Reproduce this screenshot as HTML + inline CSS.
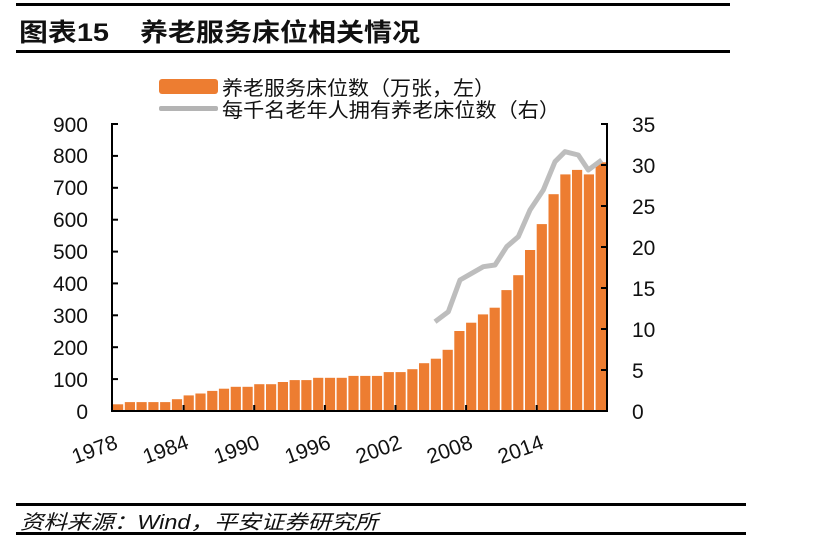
<!DOCTYPE html>
<html><head><meta charset="utf-8"><style>
body{margin:0;background:#fff;}
svg{display:block;font-family:"Liberation Sans","Noto Sans CJK SC",sans-serif;}
</style></head><body>
<svg width="815" height="537" viewBox="0 0 815 537">
<rect x="0" y="0" width="815" height="537" fill="#fff"/>
<rect x="16" y="3" width="714" height="3" fill="#000"/>
<rect x="16" y="50" width="714" height="3" fill="#000"/>
<text x="19" y="41" font-size="25" font-weight="bold" fill="#111" textLength="90" lengthAdjust="spacingAndGlyphs">图表15</text>
<text x="140" y="41" font-size="25" font-weight="bold" fill="#111" textLength="280" lengthAdjust="spacingAndGlyphs">养老服务床位相关情况</text>

<rect x="159" y="79" width="59" height="15" rx="3" fill="#ed7d31"/>
<text x="222" y="95" font-size="20" fill="#111" textLength="273" lengthAdjust="spacingAndGlyphs">养老服务床位数（万张，左）</text>
<rect x="159" y="106" width="59" height="5" rx="2" fill="#b4b4b4"/>
<text x="222" y="117" font-size="20" fill="#111" textLength="338" lengthAdjust="spacingAndGlyphs">每千名老年人拥有养老床位数（右）</text>

<g fill="#ed7d31">
<rect x="113.0" y="404.3" width="10.2" height="6.7"/>
<rect x="124.8" y="402.1" width="10.2" height="8.9"/>
<rect x="136.5" y="402.1" width="10.2" height="8.9"/>
<rect x="148.3" y="402.1" width="10.2" height="8.9"/>
<rect x="160.1" y="402.1" width="10.2" height="8.9"/>
<rect x="171.9" y="399.2" width="10.2" height="11.8"/>
<rect x="183.6" y="395.4" width="10.2" height="15.6"/>
<rect x="195.4" y="393.5" width="10.2" height="17.5"/>
<rect x="207.2" y="390.9" width="10.2" height="20.1"/>
<rect x="218.9" y="388.7" width="10.2" height="22.3"/>
<rect x="230.7" y="386.8" width="10.2" height="24.2"/>
<rect x="242.5" y="386.8" width="10.2" height="24.2"/>
<rect x="254.2" y="384.2" width="10.2" height="26.8"/>
<rect x="266.0" y="384.2" width="10.2" height="26.8"/>
<rect x="277.8" y="382.0" width="10.2" height="29.0"/>
<rect x="289.6" y="380.1" width="10.2" height="30.9"/>
<rect x="301.3" y="380.1" width="10.2" height="30.9"/>
<rect x="313.1" y="377.8" width="10.2" height="33.2"/>
<rect x="324.9" y="377.8" width="10.2" height="33.2"/>
<rect x="336.6" y="377.8" width="10.2" height="33.2"/>
<rect x="348.4" y="375.9" width="10.2" height="35.1"/>
<rect x="360.2" y="375.9" width="10.2" height="35.1"/>
<rect x="371.9" y="375.9" width="10.2" height="35.1"/>
<rect x="383.7" y="372.1" width="10.2" height="38.9"/>
<rect x="395.5" y="372.1" width="10.2" height="38.9"/>
<rect x="407.3" y="369.2" width="10.2" height="41.8"/>
<rect x="419.0" y="363.2" width="10.2" height="47.8"/>
<rect x="430.8" y="358.7" width="10.2" height="52.3"/>
<rect x="442.6" y="349.8" width="10.2" height="61.2"/>
<rect x="454.3" y="331.0" width="10.2" height="80.0"/>
<rect x="466.1" y="322.7" width="10.2" height="88.3"/>
<rect x="477.9" y="314.4" width="10.2" height="96.6"/>
<rect x="489.6" y="307.7" width="10.2" height="103.3"/>
<rect x="501.4" y="290.1" width="10.2" height="120.9"/>
<rect x="513.2" y="275.2" width="10.2" height="135.8"/>
<rect x="525.0" y="250.0" width="10.2" height="161.0"/>
<rect x="536.7" y="224.1" width="10.2" height="186.9"/>
<rect x="548.5" y="194.2" width="10.2" height="216.8"/>
<rect x="560.3" y="174.4" width="10.2" height="236.6"/>
<rect x="572.0" y="169.9" width="10.2" height="241.1"/>
<rect x="583.8" y="174.4" width="10.2" height="236.6"/>
<rect x="595.6" y="162.3" width="10.4" height="248.7"/>
</g>
<polyline fill="none" stroke="#bdbdbd" stroke-width="5" stroke-linejoin="round" points="435,321.7 448.3,311.7 460,280 471.7,273.3 483.3,266.7 495,265 506.7,246.7 518.3,236.7 530,210 543.3,190 555,161.7 565,151.7 578.3,155 588.3,170 601.7,160"/>

<g stroke="#000" stroke-width="2" fill="none">
<polyline points="118,124 112,124 112,411 607,411 607,124 601,124"/>
<line x1="112" y1="379.1" x2="118" y2="379.1"/>
<line x1="112" y1="347.2" x2="118" y2="347.2"/>
<line x1="112" y1="315.3" x2="118" y2="315.3"/>
<line x1="112" y1="283.4" x2="118" y2="283.4"/>
<line x1="112" y1="251.6" x2="118" y2="251.6"/>
<line x1="112" y1="219.7" x2="118" y2="219.7"/>
<line x1="112" y1="187.8" x2="118" y2="187.8"/>
<line x1="112" y1="155.9" x2="118" y2="155.9"/>
<line x1="601" y1="370" x2="607" y2="370"/>
<line x1="601" y1="329" x2="607" y2="329"/>
<line x1="601" y1="288" x2="607" y2="288"/>
<line x1="601" y1="247" x2="607" y2="247"/>
<line x1="601" y1="206" x2="607" y2="206"/>
<line x1="601" y1="165" x2="607" y2="165"/>
<line x1="183.6" y1="411" x2="183.6" y2="405"/>
<line x1="254.2" y1="411" x2="254.2" y2="405"/>
<line x1="324.9" y1="411" x2="324.9" y2="405"/>
<line x1="395.5" y1="411" x2="395.5" y2="405"/>
<line x1="466.1" y1="411" x2="466.1" y2="405"/>
<line x1="536.7" y1="411" x2="536.7" y2="405"/>
</g>
<g font-size="21" fill="#111" text-anchor="end">
<text x="88" y="419">0</text>
<text x="88" y="387">100</text>
<text x="88" y="355">200</text>
<text x="88" y="323">300</text>
<text x="88" y="291">400</text>
<text x="88" y="259">500</text>
<text x="88" y="227">600</text>
<text x="88" y="195">700</text>
<text x="88" y="163">800</text>
<text x="88" y="132">900</text>
</g>
<g font-size="21" fill="#111">
<text x="632" y="419">0</text>
<text x="632" y="378">5</text>
<text x="632" y="337">10</text>
<text x="632" y="296">15</text>
<text x="632" y="255">20</text>
<text x="632" y="214">25</text>
<text x="632" y="173">30</text>
<text x="632" y="132">35</text>
</g>
<g font-size="21" fill="#111" text-anchor="middle">
<text transform="translate(97,456) rotate(-20)">1978</text>
<text transform="translate(168,456) rotate(-20)">1984</text>
<text transform="translate(239,456) rotate(-20)">1990</text>
<text transform="translate(310,456) rotate(-20)">1996</text>
<text transform="translate(381,456) rotate(-20)">2002</text>
<text transform="translate(452,456) rotate(-20)">2008</text>
<text transform="translate(523,456) rotate(-20)">2014</text>
</g>

<rect x="16" y="503" width="730" height="3" fill="#000"/>
<rect x="16" y="532" width="730" height="3" fill="#000"/>
<text x="20" y="529" font-size="20" font-style="italic" fill="#111" textLength="358" lengthAdjust="spacingAndGlyphs">资料来源：Wind，平安证券研究所</text>
</svg>
</body></html>
